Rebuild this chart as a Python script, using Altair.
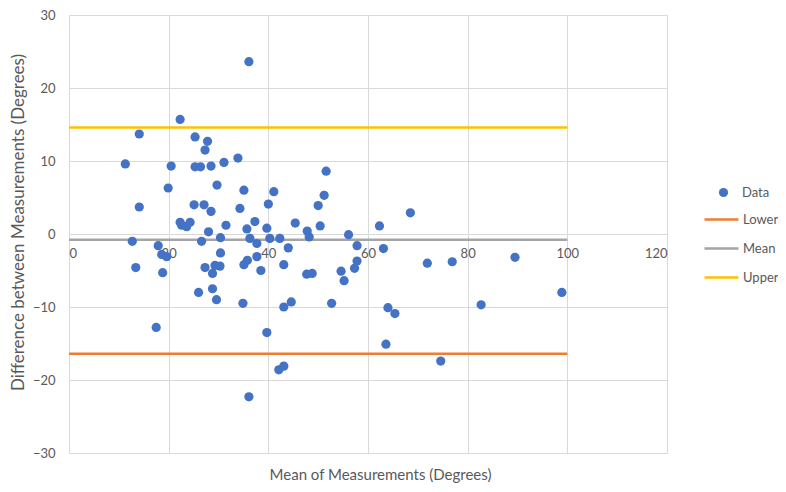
import altair as alt
import pandas as pd

# Scatter data (mean of measurements, difference between measurements)
mean_vals = [36.1, 22.3, 14.1, 25.3, 27.8, 27.3, 33.9, 11.3, 20.5, 25.3, 26.4, 28.5, 31.1, 51.6,
             29.7, 19.9, 35.1, 41.1, 51.2, 14.1, 25.1, 27.1, 28.5, 34.3, 40.0, 50.0, 68.5, 22.3,
             22.6, 23.6, 24.3, 31.5, 37.3, 28.0, 30.4, 26.6, 35.7, 36.3, 37.7, 39.7, 40.3, 42.3,
             45.4, 47.8, 48.2, 44.0, 12.7, 17.9, 50.4, 56.1, 62.3, 57.8, 63.1, 18.6, 19.6, 13.4,
             18.8, 30.4, 27.3, 29.3, 30.3, 28.8, 26.0, 28.8, 29.6, 17.5, 34.9, 35.1, 35.8, 37.7,
             38.5, 43.1, 39.7, 43.1, 44.6, 42.1, 43.1, 36.1, 47.7, 48.8, 54.6, 55.2, 57.8, 57.3,
             52.7, 64.0, 65.4, 63.6, 74.6, 71.9, 76.9, 89.5, 82.7, 98.9]
diff_vals = [23.6, 15.7, 13.7, 13.3, 12.7, 11.5, 10.4, 9.6, 9.3, 9.2, 9.2, 9.3, 9.8, 8.6,
             6.7, 6.3, 6.0, 5.8, 5.3, 3.7, 4.0, 4.0, 3.1, 3.5, 4.1, 3.9, 2.9, 1.6,
             1.2, 1.0, 1.6, 1.2, 1.7, 0.3, -0.5, -1.0, 0.7, -0.6, -1.3, 0.8, -0.6, -0.6,
             1.5, 0.4, -0.4, -1.9, -1.0, -1.6, 1.1, -0.1, 1.1, -1.6, -2.0, -2.8, -3.1, -4.6,
             -5.3, -2.6, -4.6, -4.3, -4.4, -5.4, -8.0, -7.5, -9.0, -12.8, -9.5, -4.2, -3.6, -3.1,
             -5.0, -4.2, -13.5, -10.0, -9.3, -18.6, -18.1, -22.3, -5.5, -5.4, -5.1, -6.4, -3.7, -4.7,
             -9.5, -10.1, -10.9, -15.1, -17.4, -4.0, -3.8, -3.2, -9.7, -8.0]

# Limit lines
limit_names = ["Lower", "Mean", "Upper"]
limit_values = [-16.4, -0.8, 14.6]
limit_start = [0, 0, 0]
limit_end = [100, 100, 100]
limit_colors = ["#ED7D31", "#A5A5A5", "#FFC000"]

x_ticks = [0, 20, 40, 60, 80, 100, 120]
y_ticks = [-30, -20, -10, 0, 10, 20, 30]

pts = pd.DataFrame({"m": mean_vals, "d": diff_vals, "series": ["Data"] * len(mean_vals)})
lims = pd.DataFrame({"name": limit_names, "v": limit_values, "x0": limit_start, "x1": limit_end})

FONT = "Lato"
TXT = "#595959"
GRID = "#D9D9D9"

xscale = alt.Scale(domain=[0, 120], nice=False, zero=False)
yscale = alt.Scale(domain=[-30, 30], nice=False, zero=False)

xaxis = alt.Axis(values=x_ticks, grid=True, gridColor=GRID, gridWidth=1, domain=False,
                 ticks=False, tickSize=0, offset=-219, labelPadding=13, labelFontSize=13,
                 labelColor=TXT, labelFont=FONT, title="Mean of Measurements (Degrees)",
                 titleFont=FONT, titleFontSize=15, titleColor=TXT, titleFontWeight="normal",
                 titleX=311, titleY=240, titleBaseline="middle", titleAlign="center")
yaxis = alt.Axis(values=y_ticks, grid=True, gridColor=GRID, gridWidth=1, domain=False,
                 ticks=False, tickSize=0, labelPadding=14, labelFontSize=13,
                 labelColor=TXT, labelFont=FONT, title="Difference between Measurements (Degrees)",
                 titleFont=FONT, titleFontSize=17, titleColor=TXT, titleFontWeight="normal",
                 titleX=-51, titleY=207, titleAngle=270, titleBaseline="middle", titleAlign="center")

rules = alt.Chart(lims).mark_rule(strokeWidth=2.5).encode(
    x=alt.X("x0:Q", scale=xscale, axis=xaxis),
    x2="x1:Q",
    y=alt.Y("v:Q", scale=yscale, axis=yaxis),
    stroke=alt.Stroke("name:N", scale=alt.Scale(domain=limit_names, range=limit_colors),
                      legend=alt.Legend(title=None, orient="none", legendX=646, legendY=198,
                                        symbolType="M-3.4,0L3.4,0", symbolSize=100,
                                        symbolStrokeWidth=2.5, labelOffset=15,
                                        labelFontSize=13, labelFont=FONT, labelColor=TXT,
                                        rowPadding=15)),
)

points = alt.Chart(pts).mark_point(filled=True, size=85, opacity=1).encode(
    x=alt.X("m:Q", scale=xscale, axis=xaxis),
    y=alt.Y("d:Q", scale=yscale, axis=yaxis),
    fill=alt.Fill("series:N", scale=alt.Scale(domain=["Data"], range=["#4472C4"]),
                  legend=alt.Legend(title=None, orient="none", legendX=648, legendY=171,
                                    symbolType="circle", symbolSize=85, labelOffset=12,
                                    labelFontSize=13, labelFont=FONT, labelColor=TXT)),
)

chart = alt.layer(rules, points).properties(
    width=598, height=438,
    autosize=alt.AutoSizeParams(type="none"),
    padding={"left": 61, "top": 7, "right": 111, "bottom": 31},
).configure_view(stroke=None)

chart.save("out.html", embed_options={"renderer": "svg", "actions": False})
